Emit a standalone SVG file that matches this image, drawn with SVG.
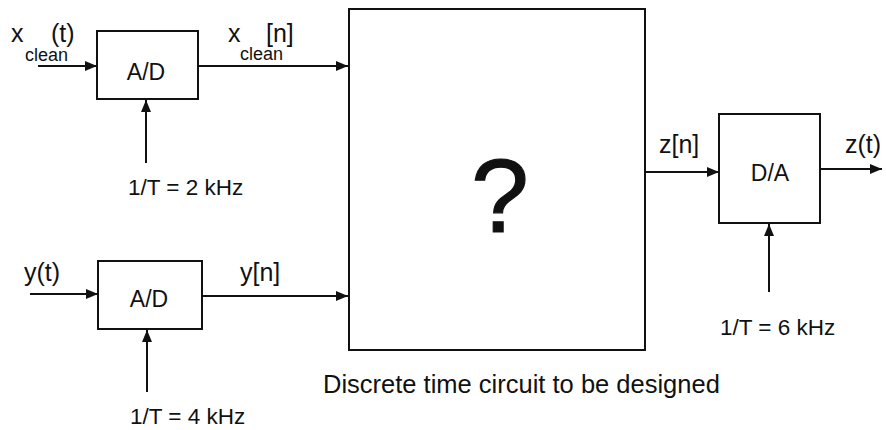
<svg xmlns="http://www.w3.org/2000/svg" width="886" height="430" viewBox="0 0 886 430">
<defs>
<marker id="ah" markerWidth="12" markerHeight="10" refX="12" refY="5" orient="auto" markerUnits="userSpaceOnUse">
<path d="M0,0 L12,5 L0,10 z" fill="#111"/>
</marker>
<style>
.box{fill:#fff;stroke:#111;stroke-width:2}
.ln{stroke:#111;stroke-width:2;fill:none;marker-end:url(#ah)}
text{font-family:"Liberation Sans",Arial,sans-serif;fill:#111}
.sig{font-size:25px}
.sub{font-size:18px}
.blk{font-size:23px;text-anchor:middle}
.rate{font-size:22.5px}
</style>
</defs>
<rect width="886" height="430" fill="#fff"/>
<g id="connectors">
<line class="ln" x1="38" y1="66" x2="97" y2="66"/>
<line class="ln" x1="198" y1="66" x2="348" y2="66"/>
<line class="ln" x1="146" y1="163" x2="146" y2="100"/>
<line class="ln" x1="30" y1="294" x2="98" y2="294"/>
<line class="ln" x1="202" y1="296" x2="348" y2="296"/>
<line class="ln" x1="147" y1="392" x2="147" y2="330"/>
<line class="ln" x1="645" y1="172" x2="719" y2="172"/>
<line class="ln" x1="820" y1="169" x2="882" y2="169"/>
<line class="ln" x1="769" y1="292" x2="769" y2="224"/>
</g>
<g id="ad1">
<rect class="box" x="97" y="31" width="101" height="68"/>
<text class="blk" x="146" y="80">A/D</text>
</g>
<g id="ad2">
<rect class="box" x="98" y="261" width="104" height="68"/>
<text class="blk" x="149" y="307">A/D</text>
</g>
<g id="da">
<rect class="box" x="719" y="114" width="101" height="109"/>
<text class="blk" x="770" y="181">D/A</text>
</g>
<g id="circuit">
<rect class="box" x="349" y="9" width="296" height="341"/>
<text x="500" y="232" font-size="104" text-anchor="middle" stroke="#111" stroke-width="1.2">?</text>
</g>
<g id="labels">
<text class="sig" x="11" y="42">x</text>
<text class="sig" x="51" y="42">(t)</text>
<text class="sub" x="25" y="61">clean</text>
<text class="sig" x="228" y="42">x</text>
<text class="sig" x="266" y="42">[n]</text>
<text class="sub" x="240" y="60">clean</text>
<text class="sig" x="24" y="281">y(t)</text>
<text class="sig" x="240" y="281">y[n]</text>
<text class="sig" x="659" y="153">z[n]</text>
<text class="sig" x="845" y="153">z(t)</text>
<text class="rate" x="128" y="195">1/T = 2 kHz</text>
<text class="rate" x="130" y="424">1/T = 4 kHz</text>
<text class="rate" x="720" y="335">1/T = 6 kHz</text>
<text x="323" y="393" font-size="25.5">Discrete time circuit to be designed</text>
</g>
</svg>
